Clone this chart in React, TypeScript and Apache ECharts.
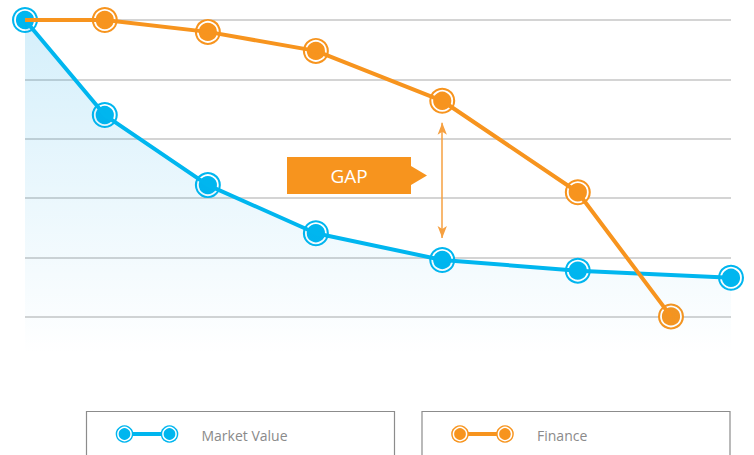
import React, { useEffect, useRef } from "react";
import * as echarts from "echarts";

// ---- data (y axis runs downward from the top line) ----
const mvX = [0, 11.3, 25.9, 41.2, 59.1, 78.3, 100];
const mvY = [0, 1.6, 2.78, 3.59, 4.04, 4.22, 4.34];
const finX = [0, 11.3, 25.9, 41.2, 59.1, 78.3, 91.5];
const finY = [0, 0, 0.2, 0.52, 1.36, 2.9, 4.99];
const seriesNames = ["Market Value", "Finance"];
const gapX = 59.1;
const gapFrom = 1.73;
const gapTo = 3.67;
const gapLabel = "GAP";

const BLUE = "#00B6EF";
const ORANGE = "#F7941E";

const pairs = (xs: number[], ys: number[]) => xs.map((x, i) => [x, ys[i]]);

export default function App() {
  const ref = useRef<HTMLDivElement>(null);
  useEffect(() => {
    if (!ref.current) return;
    const chart = echarts.init(ref.current, null, { renderer: "svg" });
    const mv = pairs(mvX, mvY);
    const fin = pairs(finX, finY);

    const legendItem = (x0: number, color: string, name: string) => [
      {
        type: "rect",
        shape: { x: x0, y: 411.5, width: 308, height: 60 },
        style: { fill: "none", stroke: "#8C8C8C", lineWidth: 1.2 },
      },
      {
        type: "line",
        shape: { x1: x0 + 38, y1: 434, x2: x0 + 83, y2: 434 },
        style: { stroke: color, lineWidth: 4 },
      },
      ...[x0 + 38, x0 + 83].flatMap((cx) => [
        { type: "circle", shape: { cx, cy: 434, r: 8.8 }, style: { fill: color } },
        {
          type: "circle",
          shape: { cx, cy: 434, r: 6.6 },
          style: { fill: color, stroke: "#fff", lineWidth: 1.5 },
        },
      ]),
      {
        type: "text",
        x: x0 + 115,
        y: 435,
        style: {
          text: name,
          fill: "#8A8A8A",
          font: "14px 'Open Sans'",
          verticalAlign: "middle",
          align: "left",
        },
      },
    ];

    const option: any = {
      animation: false,
      grid: { left: 25, right: 23, top: 20, bottom: 100, containLabel: false },
      xAxis: {
        type: "value",
        min: 0,
        max: 100,
        show: false,
        splitLine: { show: false },
      },
      yAxis: {
        type: "value",
        inverse: true,
        min: 0,
        max: 5.64,
        interval: 1,
        axisLine: { show: false },
        axisTick: { show: false },
        axisLabel: { show: false },
        splitLine: {
          show: true,
          showMinLine: true,
          showMaxLine: false,
          lineStyle: { color: "#C6C6C6", width: 1.5 },
        },
      },
      series: [
        {
          name: seriesNames[0],
          type: "line",
          data: mv,
          showSymbol: false,
          lineStyle: { color: BLUE, width: 4 },
          areaStyle: {
            origin: "end",
            color: new echarts.graphic.LinearGradient(0, 0, 0, 1, [
              { offset: 0, color: "rgba(0,160,230,0.24)" },
              { offset: 1, color: "rgba(0,160,230,0.0)" },
            ]),
          },
          silent: true,
        },
        {
          name: seriesNames[1],
          type: "line",
          data: fin,
          showSymbol: false,
          lineStyle: { color: ORANGE, width: 4 },
          silent: true,
          markLine: {
            silent: true,
            symbol: ["arrow", "arrow"],
            symbolSize: [7, 12],
            label: { show: false },
            lineStyle: { color: "#F6A040", width: 1.5, type: "solid" },
            data: [[{ coord: [gapX, gapFrom] }, { coord: [gapX, gapTo] }]],
          },
        },
        {
          type: "scatter",
          data: fin.slice(1),
          symbolSize: 26,
          itemStyle: { color: ORANGE, opacity: 1 },
          silent: true,
        },
        {
          type: "scatter",
          data: fin.slice(1),
          symbolSize: 20,
          itemStyle: { color: ORANGE, borderColor: "#fff", borderWidth: 1.8, opacity: 1 },
          silent: true,
        },
        {
          type: "scatter",
          data: mv,
          symbolSize: 26,
          itemStyle: { color: BLUE, opacity: 1 },
          silent: true,
        },
        {
          type: "scatter",
          data: mv,
          symbolSize: 20,
          itemStyle: { color: BLUE, borderColor: "#fff", borderWidth: 1.8, opacity: 1 },
          silent: true,
        },
      ],
      graphic: [
        {
          type: "polygon",
          shape: {
            points: [
              [287, 157],
              [411, 157],
              [411, 166],
              [427, 175.5],
              [411, 185],
              [411, 194],
              [287, 194],
            ],
          },
          style: { fill: ORANGE },
          silent: true,
        },
        {
          type: "text",
          x: 349,
          y: 176,
          style: {
            text: gapLabel,
            fill: "#fff",
            font: "19px 'Open Sans'",
            align: "center",
            verticalAlign: "middle",
          },
          silent: true,
        },
        ...legendItem(86.5, BLUE, seriesNames[0]),
        ...legendItem(422, ORANGE, seriesNames[1]),
      ],
    };
    chart.setOption(option);
    return () => chart.dispose();
  }, []);
  return (
    <div
      ref={ref}
      style={{ width: 754, height: 455, position: "absolute", left: 0, top: 0 }}
    />
  );
}
